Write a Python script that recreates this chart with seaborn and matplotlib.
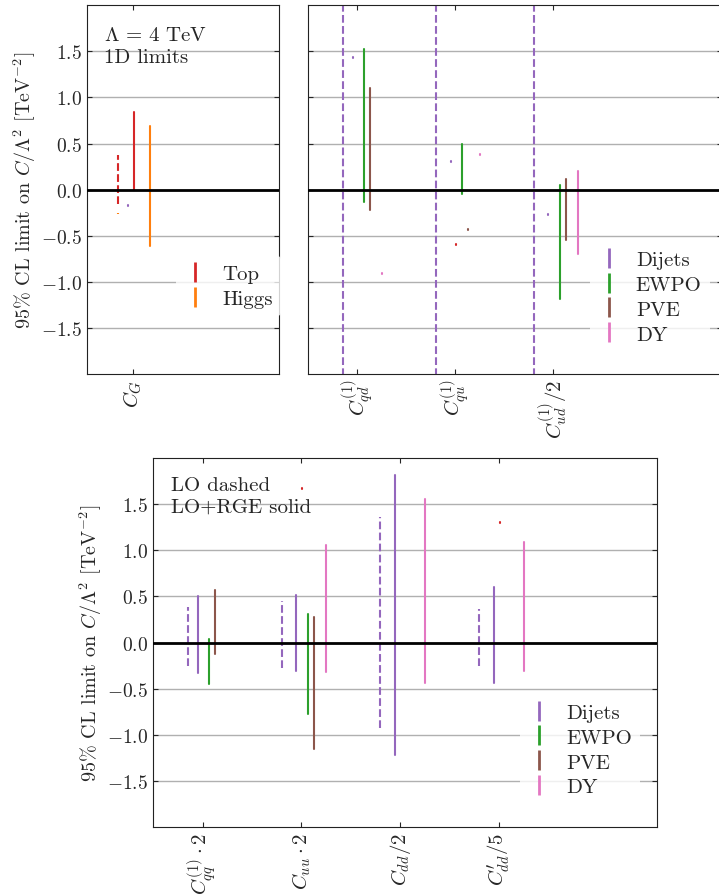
import matplotlib
matplotlib.use("Agg")
import matplotlib.pyplot as plt
from matplotlib.lines import Line2D
import pandas as pd
import seaborn as sns

# Operators shown in each panel (tick labels)
higgs_ops = ['$C_G$']
fourq_ops = ['$C_{qd}^{(1)}$', '$C_{qu}^{(1)}$', '$C_{ud}^{(1)}/2$']
quark_ops = ['$C_{qq}^{(1)}\\cdot 2$', '$C_{uu}\\cdot 2$', '$C_{dd}/2$', '$C^{\\prime}_{dd}/5$']

# 95% CL intervals: operator index, dataset, order, lower, upper
higgs_op = [0, 0, 0, 0, 0]
higgs_src = ['Top', 'Top', 'Higgs', 'Dijets', 'Higgs']
higgs_ord = ['LO', 'RGE', 'RGE', 'RGE', 'LO']
higgs_lo = [-0.16, 0.0, -0.61, -0.18, -0.26]
higgs_hi = [0.38, 0.84, 0.69, -0.165, -0.25]

fourq_op = [0, 0, 0, 0, 0,
            1, 1, 1, 1, 1, 1, 1,
            2, 2, 2, 2, 2]
fourq_src = ['Dijets', 'Dijets', 'EWPO', 'PVE', 'DY',
             'Dijets', 'Dijets', 'Top', 'EWPO', 'PVE', 'Higgs', 'DY',
             'Dijets', 'Dijets', 'EWPO', 'PVE', 'DY']
fourq_ord = ['LO', 'RGE', 'RGE', 'RGE', 'RGE',
             'LO', 'RGE', 'RGE', 'RGE', 'RGE', 'RGE', 'RGE',
             'LO', 'RGE', 'RGE', 'RGE', 'RGE']
fourq_lo = [-8.0, 1.43, -0.13, -0.22, -0.91,
            -8.0, 0.30, -0.60, -0.05, -0.44, 1.13, 0.375,
            -8.0, -0.275, -1.19, -0.55, -0.70]
fourq_hi = [8.0, 1.44, 1.525, 1.10, -0.90,
            8.0, 0.31, -0.59, 0.50, -0.43, 1.14, 0.385,
            8.0, -0.265, 0.055, 0.11, 0.20]

quark_op = [0, 0, 0, 0, 0, 0,
            1, 1, 1, 1, 1, 1,
            2, 2, 2,
            3, 3, 3, 3]
quark_src = ['Dijets', 'Dijets', 'Top', 'EWPO', 'PVE', 'DY',
             'Dijets', 'Dijets', 'Top', 'EWPO', 'PVE', 'DY',
             'Dijets', 'Dijets', 'DY',
             'Dijets', 'Dijets', 'Top', 'DY']
quark_ord = ['LO', 'RGE', 'RGE', 'RGE', 'RGE', 'RGE',
             'LO', 'RGE', 'RGE', 'RGE', 'RGE', 'RGE',
             'LO', 'RGE', 'RGE',
             'LO', 'RGE', 'RGE', 'RGE']
quark_lo = [-0.26, -0.33, -0.335, -0.45, -0.12, 0.85,
            -0.28, -0.31, 1.67, -0.78, -1.15, -0.32,
            -0.925, -1.215, -0.44,
            -0.25, -0.435, 1.30, -0.31]
quark_hi = [0.384, 0.50, -0.328, 0.04, 0.57, 0.856,
            0.455, 0.51, 1.676, 0.31, 0.28, 1.055,
            1.36, 1.815, 1.56,
            0.36, 0.605, 1.306, 1.085]

y_ticks = [-1.5, -1.0, -0.5, 0.0, 0.5, 1.0, 1.5]

# Styling
colors = {'Dijets': '#9467bd', 'Top': '#d62728', 'EWPO': '#2ca02c',
          'PVE': '#8c564b', 'Higgs': '#ff7f0e', 'DY': '#e377c2'}
dodge = {'Dijets': -0.05, 'Top': 0.01, 'EWPO': 0.07, 'PVE': 0.13,
         'Higgs': 0.18, 'DY': 0.25}

sns.set_style('ticks')
plt.rcParams['font.family'] = 'serif'
plt.rcParams['font.serif'] = ['cmr10']
plt.rcParams['mathtext.fontset'] = 'cm'
plt.rcParams['axes.formatter.use_mathtext'] = True
plt.rcParams['axes.unicode_minus'] = True


# Build a long-form table with two rows (lower/upper) per interval
def build_frame(op, src, order, lo, hi):
    rows = []
    for k in range(len(op)):
        if order[k] == 'LO':
            shift = -0.15 if op[k] == 0 else -0.2
        else:
            shift = dodge[src[k]]
        for val in (lo[k], hi[k]):
            rows.append({'seg': k, 'x': op[k] + shift, 'y': val,
                         'source': src[k], 'order': order[k]})
    return pd.DataFrame(rows)


def draw_panel(ax, labels, df, xlim, show_ylabel):
    sns.lineplot(data=df, x='x', y='y', units='seg', estimator=None, sort=False,
                 hue='source', palette=colors, style='order',
                 dashes={'LO': (3.7, 1.6), 'RGE': ''}, lw=1.5,
                 legend=False, ax=ax, zorder=2)
    ax.axhline(0, color='black', lw=2, zorder=3)
    ax.yaxis.grid(True, color='#b0b0b0', lw=1, zorder=0)
    ax.set_axisbelow(True)
    ax.set_ylim(-2, 2)
    ax.set_yticks(y_ticks)
    ax.set_xlim(*xlim)
    ax.set_xticks(range(len(labels)))
    ax.set_xticklabels(labels, rotation=90)
    ax.set_xlabel('')
    ax.tick_params(direction='in', top=True, right=True, labelsize=14)
    ax.tick_params(axis='x', labelsize=15)
    if show_ylabel:
        ax.set_ylabel('95% CL limit on $C/\\Lambda^2$ [TeV$^{-2}$]', fontsize=14.5,
                      labelpad=2)
    else:
        ax.set_ylabel('')
        ax.tick_params(labelleft=False)
    for s in ax.spines.values():
        s.set_color('#222222')


def make_legend(ax, names, anchor):
    handles = [Line2D([], [], color=colors[n], marker='|', linestyle='None',
                      markersize=14, markeredgewidth=2) for n in names]
    ax.legend(handles, names, loc='center', bbox_to_anchor=anchor,
              bbox_transform=ax.figure.transFigure, fontsize=15,
              frameon=True, framealpha=0.8, edgecolor='none',
              handlelength=1.0, handletextpad=0.8, labelspacing=0.3)


fig = plt.figure(figsize=(7.19, 8.95), dpi=100)

ax1 = fig.add_axes([0.121, 0.581, 0.267, 0.412])
ax2 = fig.add_axes([0.429, 0.581, 0.575, 0.412])
ax3 = fig.add_axes([0.213, 0.075, 0.701, 0.412])

draw_panel(ax1, higgs_ops, build_frame(higgs_op, higgs_src, higgs_ord, higgs_lo, higgs_hi),
           (-0.47, 1.5), True)
draw_panel(ax2, fourq_ops, build_frame(fourq_op, fourq_src, fourq_ord, fourq_lo, fourq_hi),
           (-0.5, 3.72), False)
draw_panel(ax3, quark_ops, build_frame(quark_op, quark_src, quark_ord, quark_lo, quark_hi),
           (-0.5, 4.6), True)

ax1.text(0.09, 0.945, '$\\Lambda\\,=\\,4$ TeV\n1D limits', transform=ax1.transAxes,
         va='top', ha='left', fontsize=15, linespacing=1.3)
ax3.text(0.035, 0.95, 'LO dashed\nLO+RGE solid', transform=ax3.transAxes,
         va='top', ha='left', fontsize=15, linespacing=1.25)

make_legend(ax1, ['Top', 'Higgs'], (0.318, 0.679))
make_legend(ax2, ['Dijets', 'EWPO', 'PVE', 'DY'], (0.904, 0.667))
make_legend(ax3, ['Dijets', 'EWPO', 'PVE', 'DY'], (0.807, 0.161))

fig.savefig('out.png', dpi=100)
